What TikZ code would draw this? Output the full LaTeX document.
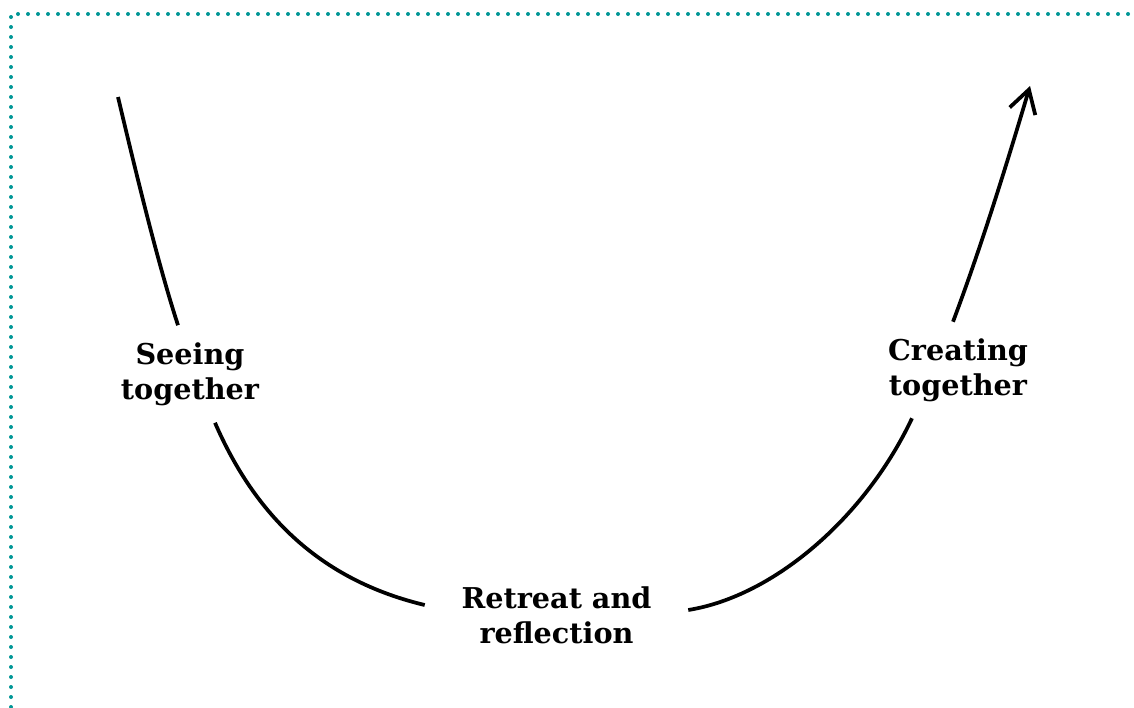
\documentclass[tikz,border=0pt]{standalone}
\usepackage{fontspec}
\setmainfont{DejaVu Serif}
\usetikzlibrary{arrows.meta}
\definecolor{tealdot}{RGB}{0,150,150}
\tikzset{
  lbl/.style={font=\bfseries\fontsize{21.5}{26}\selectfont, align=center, inner sep=0pt},
  curve/.style={line width=2.8pt, black},
  frame/.style={tealdot, line width=3pt, line cap=round, dash pattern=on 0pt off 7.5pt}
}
\begin{document}
\begin{tikzpicture}[x=0.75pt,y=-0.75pt]
\useasboundingbox (0,0) rectangle (1134,707);
% dotted frame
\draw[frame] (11,707) -- (11,14) -- (1134,14);
% labels (node boxes span the gaps in the curve)
\node[lbl, minimum height=72.75pt] (seeing) at (190,374) {Seeing\\together};
\node[lbl, minimum width=197.25pt, minimum height=50pt] (retreat) at (556.5,615) {Retreat and\\reflection};
\node[lbl, minimum height=72pt] (creating) at (958,370) {Creating\\together};
\coordinate (start) at (118,97);
\coordinate (tip) at (1030,86);
% connectors
\draw[curve] (start) .. controls (140,190) and (160,270) .. ([xshift=-9pt]seeing.north);
\draw[curve] ([xshift=18.75pt]seeing.south) .. controls (255,515) and (320,580) .. ([yshift=7.5pt]retreat.west);
\draw[curve] ([yshift=3.75pt]retreat.east) .. controls (775,596) and (866,516) .. ([xshift=-34.5pt]creating.south);
\draw[curve, -{Straight Barb[length=17pt,width=20pt,line width=2.8pt]}] ([xshift=-3.75pt]creating.north) .. controls (980,250) and (1005,170) .. (tip);
\end{tikzpicture}
\end{document}
